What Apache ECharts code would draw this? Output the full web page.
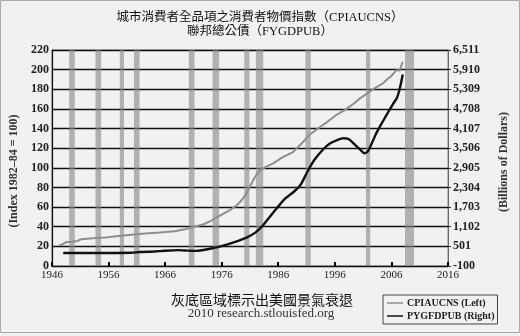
<!DOCTYPE html>
<html><head><meta charset="utf-8">
<script src="https://cdn.jsdelivr.net/npm/echarts@6/dist/echarts.min.js"></script>
<style>html,body{margin:0;padding:0;background:#f1f1f1}#c{width:520px;height:336px}</style>
</head><body><div id="c"></div>
<script>
const cpiYears = [1947.3,1948.0,1948.6,1949.5,1950.5,1951.2,1953.8,1955.5,1957.3,1960.0,1962.5,1965.0,1967.7,1969.5,1971.2,1972.8,1974.1,1975.3,1976.4,1977.6,1978.7,1979.6,1980.4,1981.0,1981.6,1982.2,1982.9,1984.0,1985.1,1986.8,1988.6,1990.0,1991.6,1993.0,1994.5,1996.3,1997.8,1999.5,2000.5,2001.9,2003.0,2004.5,2005.3,2005.9,2006.5,2006.9,2007.2,2007.5,2007.8,2008.0];
const cpiValues = [21.0,22.5,24.5,24.8,25.5,27.3,28.6,29.0,30.4,31.8,33.1,34.2,35.5,37.5,40.0,42.5,46.0,50.0,53.7,57.5,62.0,67.5,74.0,81.0,87.6,93.5,97.8,101.5,104.6,110.8,116.0,124.0,134.0,140.0,146.0,154.0,159.0,166.0,171.0,176.5,181.0,186.0,190.5,193.0,197.0,199.5,201.0,199.0,205.0,208.0];
const debtYears = [1948.0,1952.0,1956.0,1960.0,1961.5,1964.0,1966.0,1968.3,1970.0,1971.5,1973.5,1975.8,1978.4,1980.4,1982.0,1983.2,1984.3,1985.7,1987.2,1988.8,1990.0,1991.2,1992.4,1994.0,1995.2,1996.5,1997.5,1998.5,1999.5,2000.5,2001.2,2001.8,2002.6,2003.4,2004.5,2005.4,2006.3,2007.0,2007.4,2007.7,2008.0];
const debtValues = [300,300,300,305,328,345,368,385,370,362,411,500,640,770,930,1124,1360,1660,1960,2180,2400,2800,3150,3480,3655,3760,3808,3780,3620,3460,3350,3400,3680,3990,4330,4600,4860,5060,5280,5500,5760];
const recessions = [[1949.05,1950.05],[1953.7,1954.7],[1958.0,1958.75],[1960.5,1961.5],[1970.2,1971.2],[1974.4,1975.55],[1980.0,1980.9],[1982.05,1983.35],[1990.8,1991.75],[2001.5,2002.25],[2008.4,2010.0]];
const leftTicks = {min:0, max:220, step:20};
const rightTicks = {min:-100, max:6511, step:601};
const xTicks = {min:1946, max:2016, step:10};
const titleLines = ['城市消費者全品項之消費者物價指數（CPIAUCNS）','聯邦總公債（FYGDPUB）'];
const footLines = ['灰底區域標示出美國景氣衰退','2010 research.stlouisfed.org'];
const seriesNames = ['CPIAUCNS (Left)','PYGFDPUB (Right)'];

const serif = 'Liberation Serif, Noto Sans CJK TC, serif';
const chart = echarts.init(document.getElementById('c'), null, {renderer:'canvas'});
const zip = (a,b)=>a.map((v,i)=>[v,b[i]]);
chart.setOption({
  backgroundColor:'#f1f1f1',
  animation:false,
  grid:{left:45, right:72, top:50, bottom:70, show:true, borderColor:'#8a8a8a', borderWidth:1},
  xAxis:{type:'value', min:xTicks.min, max:xTicks.max, interval:xTicks.step,
    axisLine:{lineStyle:{color:'#111', width:1.2}},
    axisTick:{inside:true, length:4, lineStyle:{color:'#000', width:2}},
    splitLine:{show:false},
    axisLabel:{formatter:v=>String(v), color:'#222', fontFamily:serif, fontSize:11, margin:4}},
  yAxis:[
    {type:'value', min:leftTicks.min, max:leftTicks.max, interval:leftTicks.step,
     name:'(Index 1982–84 = 100)', nameLocation:'middle', nameGap:31, nameRotate:90,
     nameTextStyle:{fontFamily:serif, fontSize:12, fontWeight:'bold', color:'#333', padding:[0,0,0,-26]},
     axisLine:{show:true, lineStyle:{color:'#111', width:1.2}},
     axisTick:{show:false},
     splitLine:{lineStyle:{color:'#111', width:1.3}},
     axisLabel:{color:'#222', fontFamily:serif, fontSize:12, fontWeight:'bold', margin:3}},
    {type:'value', min:rightTicks.min, max:rightTicks.max, interval:rightTicks.step, position:'right',
     name:'(Billions of Dollars)', nameLocation:'middle', nameGap:50, nameRotate:90,
     nameTextStyle:{fontFamily:serif, fontSize:12, fontWeight:'bold', color:'#333', padding:[0,0,0,-8]},
     axisLine:{show:true, lineStyle:{color:'#666', width:1}},
     axisTick:{show:true, length:3, lineStyle:{color:'#333'}},
     splitLine:{show:false},
     axisLabel:{color:'#222', fontFamily:serif, fontSize:12, fontWeight:'bold', margin:5,
       formatter:v=>v.toLocaleString('en-US')}}
  ],
  legend:{orient:'vertical', left:383, top:295, data:seriesNames, icon:'rect', itemWidth:16, itemHeight:1.5,
    itemGap:3, padding:[3,3,3,4], borderColor:'#444', borderWidth:1, backgroundColor:'#f1f1f1',
    textStyle:{fontFamily:serif, fontSize:10, fontWeight:'bold', color:'#222', padding:[0,0,0,-1]}},
  graphic:[
    {type:'rect', shape:{x:0.5,y:0.5,width:519,height:332}, style:{fill:'none', stroke:'#aaa', lineWidth:1}, silent:true},
    {type:'text', left:'center', top:11, style:{text:titleLines[0], font:'12.5px '+serif, fill:'#111'}},
    {type:'text', left:'center', top:25, style:{text:titleLines[1], font:'12.5px '+serif, fill:'#111'}},
    {type:'text', x:262, y:294, style:{text:footLines[0], font:'14px '+serif, fill:'#111', align:'center'}},
    {type:'text', x:261, y:307, style:{text:footLines[1], font:'13px '+serif, fill:'#333', align:'center'}}
  ],
  series:[
    {name:seriesNames[0], type:'line', yAxisIndex:0, data:zip(cpiYears,cpiValues), showSymbol:false, smooth:false,
     lineStyle:{color:'#8e8e8e', width:2}, itemStyle:{color:'#8e8e8e'}, z:3,
     markArea:{silent:true, itemStyle:{color:'rgba(135,135,135,0.6)'},
       data:recessions.map(r=>[{xAxis:r[0]},{xAxis:r[1]}])}},
    {name:seriesNames[1], type:'line', yAxisIndex:1, data:zip(debtYears,debtValues), showSymbol:false, smooth:0.2,
     lineStyle:{color:'#111', width:2.4}, itemStyle:{color:'#111'}, z:4}
  ]
});
</script></body></html>
